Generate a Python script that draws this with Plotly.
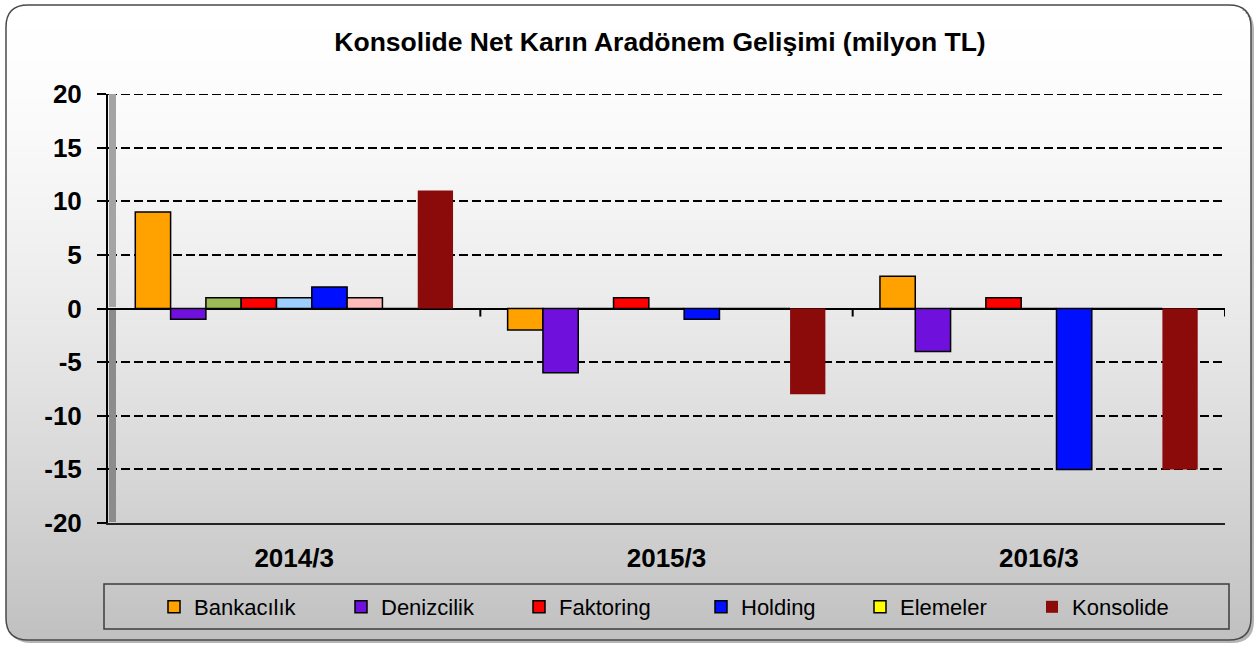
import plotly.graph_objects as go

categories = ['2014/3', '2015/3', '2016/3']

bankacilik = [9, -2, 3]
denizcilik = [-1, -6, -4]
seri_yesil = [1, 0, 0]
faktoring = [1, 1, 1]
seri_acik_mavi = [1, 0, 0]
holding = [2, -1, -15]
seri_pembe = [1, 0, 0]
elemeler = [0, 0, 0]
konsolide = [11, -8, -15]

y_ticks = [-20, -15, -10, -5, 0, 5, 10, 15, 20]
y_tick_labels = [str(v) for v in y_ticks]

FONT = 'Liberation Sans, Arial, sans-serif'
W, H = 1256, 645
# plot area in pixels
PL, PR, PT, PB = 108, 1225, 94, 523


def px(x):
    return (x - PL) / (PR - PL)


def py(y):
    return (PB - y) / (PB - PT)


# name, values, colour, outline width, legend key (None = not in legend)
series = [
    ('Bankacılık', bankacilik, '#FFA200', 1.5, 'legend'),
    ('Denizcilik', denizcilik, '#7010DD', 1.5, 'legend2'),
    ('Seri 3', seri_yesil, '#9BBB59', 1.5, None),
    ('Faktoring', faktoring, '#FF0000', 1.5, 'legend3'),
    ('Seri 5', seri_acik_mavi, '#9DD0FF', 1.5, None),
    ('Holding', holding, '#0010FF', 1.5, 'legend4'),
    ('Seri 7', seri_pembe, '#FFBABA', 1.5, None),
    ('Elemeler', elemeler, '#FFFF00', 1.5, 'legend5'),
    ('Konsolide', konsolide, '#8B0A0A', 0, 'legend6'),
]

fig = go.Figure()
for name, vals, col, lw, leg in series:
    fig.add_trace(go.Bar(
        x=categories, y=vals, name=name,
        marker=dict(color=col, line=dict(color='#000000', width=lw)),
        showlegend=leg is not None,
        legend=leg if leg else 'legend',
    ))

shapes = []

# chart background: rounded box, white -> grey gradient, with a small shadow
bx0, bx1, by0, by1, rad = 6, 1251, 5, 640, 22


def rounded_path(x0, y0, x1, y1, r):
    p = lambda x, y: f'{px(x):.5f},{py(y):.5f}'
    return (f'M{p(x0 + r, y0)} L{p(x1 - r, y0)} Q{p(x1, y0)} {p(x1, y0 + r)} '
            f'L{p(x1, y1 - r)} Q{p(x1, y1)} {p(x1 - r, y1)} L{p(x0 + r, y1)} '
            f'Q{p(x0, y1)} {p(x0, y1 - r)} L{p(x0, y0 + r)} Q{p(x0, y0)} {p(x0 + r, y0)} Z')


shapes.append(dict(type='path', xref='paper', yref='paper', layer='below',
                   path=rounded_path(bx0 + 3, by0 + 3, bx1 + 3, by1 + 3, rad),
                   fillcolor='rgba(90,90,90,0.45)', line=dict(width=0)))

step = 3
y = by0
while y < by1:
    y2 = min(y + step, by1)
    ym = (y + y2) / 2
    d = 0
    if ym < by0 + rad:
        d = rad - (rad ** 2 - (by0 + rad - ym) ** 2) ** 0.5
    elif ym > by1 - rad:
        d = rad - max(rad ** 2 - (ym - (by1 - rad)) ** 2, 0) ** 0.5
    t = (ym - by0) / (by1 - by0)
    g = round(255 - 63 * t ** 1.5)
    shapes.append(dict(type='rect', xref='paper', yref='paper', layer='below',
                       x0=px(bx0 + d), x1=px(bx1 - d), y0=py(y2 + 0.6), y1=py(y),
                       fillcolor=f'rgb({g},{g},{g})', line=dict(width=0)))
    y = y2

shapes.append(dict(type='path', xref='paper', yref='paper', layer='below',
                   path=rounded_path(bx0, by0, bx1, by1, rad),
                   line=dict(color='#4a4a4a', width=1.5)))

# top gridline (plotly drops the one on the plot edge)
shapes.append(dict(type='line', xref='paper', yref='y', x0=0, x1=1, y0=20, y1=20,
                   line=dict(color='#000000', width=2, dash='9px,4px')))

# left wall (3D look), split around the zero line
zero_px = PB - (PB - PT) * 20 / 40
shapes.append(dict(type='rect', xref='paper', yref='paper', layer='above',
                   x0=px(109), x1=px(116), y0=py(zero_px - 1.5), y1=py(PT),
                   fillcolor='#a4a4a4', line=dict(width=0)))
shapes.append(dict(type='rect', xref='paper', yref='paper', layer='above',
                   x0=px(109), x1=px(116), y0=py(PB - 1), y1=py(zero_px + 1.5),
                   fillcolor='#8c8c8c', line=dict(width=0)))

# category boundary ticks on the zero line
for b in [0.5, 1.5, 2.5]:
    shapes.append(dict(type='line', xref='x', yref='y', x0=b, x1=b, y0=0, y1=-0.75,
                       line=dict(color='#000000', width=2)))

# legend frame
shapes.append(dict(type='rect', xref='paper', yref='paper', layer='above',
                   x0=px(104), x1=px(1229), y0=py(629), y1=py(584),
                   line=dict(color='#3c3c3c', width=1.5)))

layout_legends = {}
square_left = [171, 358, 536, 718, 877, 1049]
keys = ['legend', 'legend2', 'legend3', 'legend4', 'legend5', 'legend6']
for k, sx in zip(keys, square_left):
    layout_legends[k] = dict(
        x=px(sx - 17), xanchor='left', y=py(607), yanchor='middle',
        bgcolor='rgba(0,0,0,0)', borderwidth=0, itemwidth=30,
        font=dict(family=FONT, size=22, color='#000000'),
    )

fig.update_layout(
    width=W, height=H,
    margin=dict(l=PL, r=W - PR, t=PT, b=H - PB),
    paper_bgcolor='#ffffff', plot_bgcolor='rgba(0,0,0,0)',
    barmode='group', bargap=0.1466, bargroupgap=0,
    title=dict(text='Konsolide Net Karın Aradönem Gelişimi (milyon TL)',
               x=660 / W, xref='container', xanchor='center',
               y=1 - 41.4 / H, yref='container', yanchor='middle',
               font=dict(family=FONT, size=26.5, color='#000000', weight='bold')),
    xaxis=dict(type='category', categoryorder='array', categoryarray=categories,
               range=[-0.5, 2.5], showgrid=False, ticks='',
               showline=True, linecolor='#222222', linewidth=2,
               tickfont=dict(family=FONT, size=26, color='#000000', weight='bold'),
               ticklabelstandoff=11),
    yaxis=dict(range=[-20, 20], tickvals=y_ticks, ticktext=y_tick_labels,
               showgrid=True, gridcolor='#000000', gridwidth=2, griddash='9px,4px',
               zeroline=True, zerolinecolor='#000000', zerolinewidth=2,
               showline=True, linecolor='#000000', linewidth=2,
               ticks='outside', ticklen=9, tickwidth=1.5, tickcolor='#000000',
               tickfont=dict(family=FONT, size=26, color='#000000', weight='bold'),
               ticklabelstandoff=10),
    shapes=shapes,
    **layout_legends,
)

fig.write_html('out.html', config={'displayModeBar': False},
               post_script="document.body.style.margin='0';")
